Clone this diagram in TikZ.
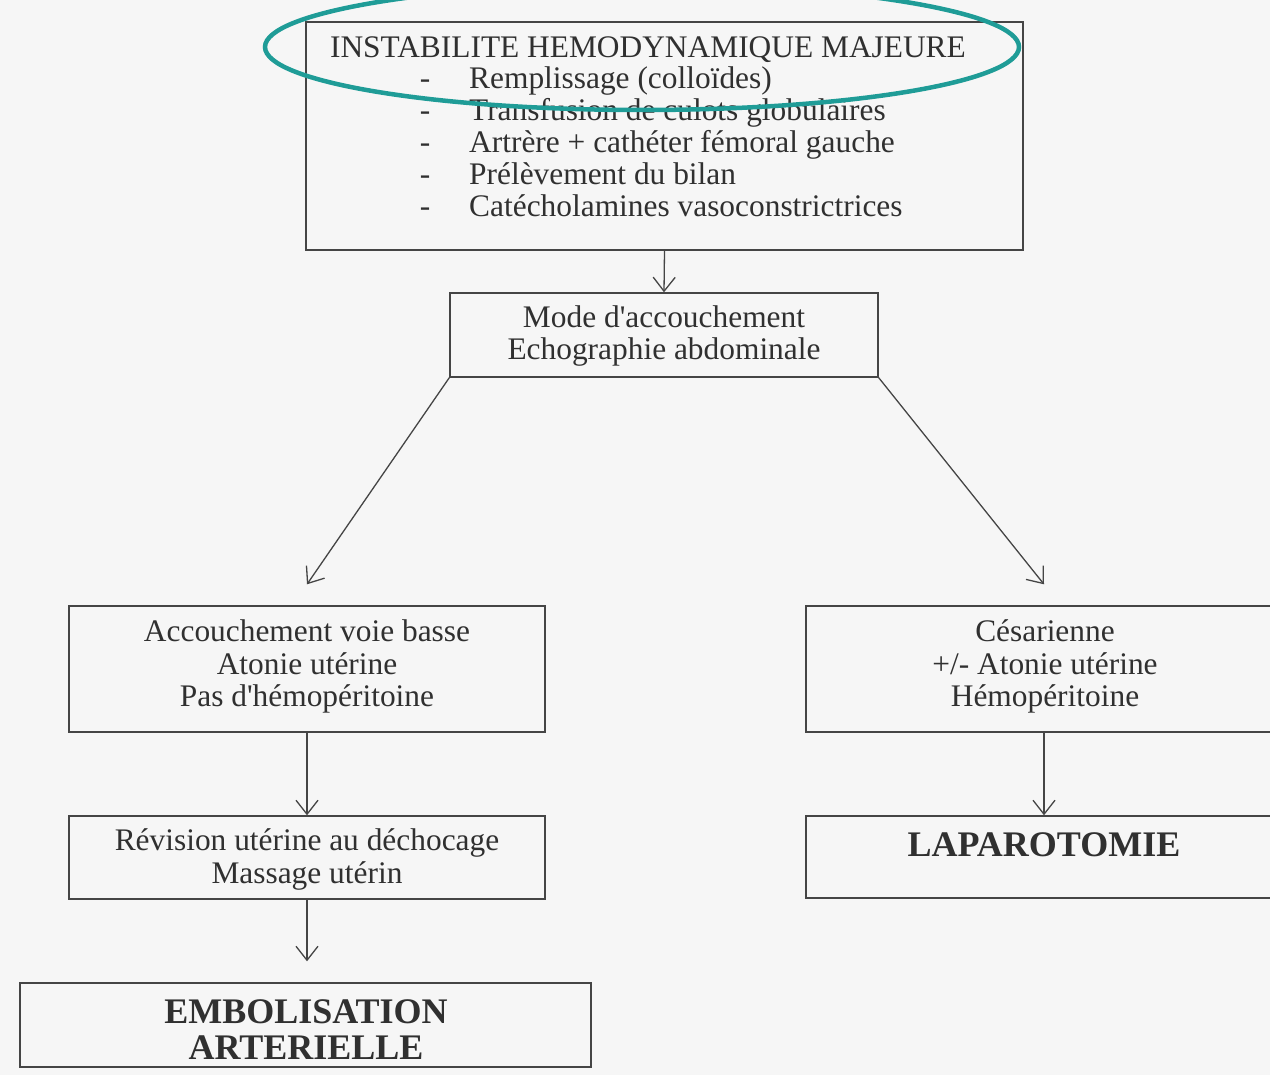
\documentclass[tikz,border=0pt]{standalone}
\usepackage{fontspec}
\setmainfont{Liberation Serif}
\usetikzlibrary{arrows.meta}
\definecolor{ink}{HTML}{303030}
\definecolor{linec}{HTML}{454545}
\definecolor{tealc}{HTML}{1F9C97}
\definecolor{paper}{HTML}{F6F6F6}
\begin{document}
\begin{tikzpicture}[x=1pt,y=-1pt,
  box/.style={draw=linec, line width=1.4pt, inner sep=0pt, rectangle},
  txt/.style={text=ink, font=\fontsize{31.4}{32}\selectfont, anchor=base, inner sep=0pt},
  btxt/.style={text=ink, font=\fontsize{36}{36}\selectfont\bfseries, anchor=base, inner sep=0pt},
  arr/.style={draw=linec, line width=1.3pt, -{Straight Barb[length=14pt,width=22pt,line width=1.3pt]}}]
\useasboundingbox (0,0) rectangle (1270,1075);
\fill[paper] (0,0) rectangle (1270,1075);

% boxes
\node[box, minimum width=717pt, minimum height=228pt] (top) at (664.5,136) {};
\node[box, minimum width=428pt, minimum height=84pt] (mode) at (664,335) {};
\node[box, minimum width=476pt, minimum height=126pt] (lb1) at (307,669) {};
\node[box, minimum width=476pt, minimum height=126pt] (rb1) at (1044,669) {};
\node[box, minimum width=476pt, minimum height=83pt] (lb2) at (307,857.5) {};
\node[box, minimum width=476pt, minimum height=82pt] (rb2) at (1044,857) {};
\node[box, minimum width=571pt, minimum height=84pt] (bot) at (305.5,1025) {};

% top box text
\node[txt] (t0) at (648,58) {INSTABILITE HEMODYNAMIQUE MAJEURE};
\node[txt] (d1) at (425,89) {-};
\node[txt, anchor=base west] (t1) at (469,89) {Remplissage (colloïdes)};
\node[txt] (d2) at (425,121) {-};
\node[txt, anchor=base west] (t2) at (469,121) {Transfusion de culots globulaires};
\node[txt] (d3) at (425,153) {-};
\node[txt, anchor=base west] (t3) at (469,153) {Artrère + cathéter fémoral gauche};
\node[txt] (d4) at (425,185) {-};
\node[txt, anchor=base west] (t4) at (469,185) {Prélèvement du bilan};
\node[txt] (d5) at (425,217) {-};
\node[txt, anchor=base west] (t5) at (469,217) {Catécholamines vasoconstrictrices};

% mode box text
\node[txt] (m1) at (664,328) {Mode d\textquotesingle accouchement};
\node[txt] (m2) at (664,360) {Echographie abdominale};

% left box 1
\node[txt] (l11) at (307,641) {Accouchement voie basse};
\node[txt] (l12) at (307,674) {Atonie utérine};
\node[txt] (l13) at (307,706) {Pas d\textquotesingle hémopéritoine};

% right box 1
\node[txt] (r11) at (1045,641) {Césarienne};
\node[txt] (r12) at (1045,674) {+/- Atonie utérine};
\node[txt] (r13) at (1045,706) {Hémopéritoine};

% left box 2
\node[txt] (l21) at (307,850) {Révision utérine au déchocage};
\node[txt] (l22) at (307,883) {Massage utérin};

% right box 2
\node[btxt] (r21) at (1044,856) {LAPAROTOMIE};

% bottom box
\node[btxt] (b1) at (306,1023) {EMBOLISATION};
\node[btxt] (b2) at (306,1059) {ARTERIELLE};

% connectors
\draw[arr] (top.south) -- (mode.north);
\draw[arr] (mode.south west) -- ([yshift=21pt]lb1.north);
\draw[arr] (mode.south east) -- ([yshift=21pt]rb1.north);
\draw[arr] (lb1.south) -- (lb2.north);
\draw[arr] (rb1.south) -- (rb2.north);
\draw[arr] (lb2.south) -- ([yshift=21pt]lb2.south |- bot.north);

% highlight ellipse
\draw[tealc, line width=4.5pt] (642,47) ellipse [x radius=377, y radius=63];
\end{tikzpicture}
\end{document}
